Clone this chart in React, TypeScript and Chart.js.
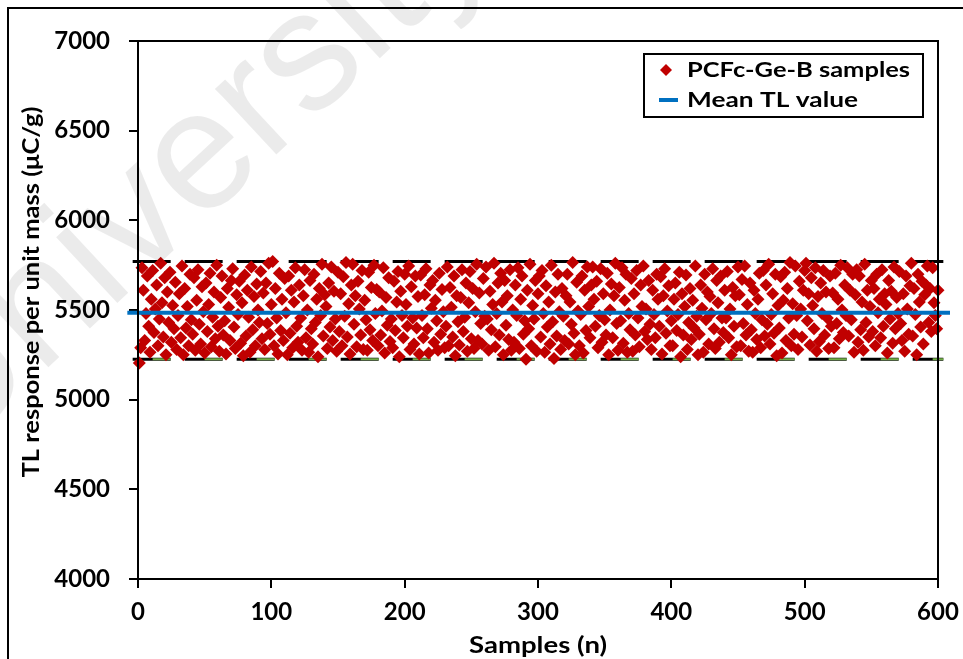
import React, { useEffect, useRef } from "react";
import { Chart, registerables } from "chart.js";

Chart.register(...registerables);

// TL response per unit mass for each PCFc-Ge-B sample
const sampleValues: number[] = [
  5205, 5290, 5735, 5610, 5330, 5480, 5690, 5410, 5265, 5560,
  5720, 5375, 5505, 5640, 5300, 5450, 5760, 5540, 5350, 5680,
  5250, 5600, 5430, 5710, 5320, 5525, 5395, 5655, 5280, 5470,
  5590, 5345, 5745, 5250, 5620, 5400, 5520, 5300, 5700, 5445,
  5365, 5680, 5275, 5555, 5725, 5420, 5310, 5630, 5490, 5260,
  5650, 5380, 5530, 5705, 5295, 5460, 5600, 5340, 5750, 5410,
  5270, 5570, 5690, 5360, 5440, 5255, 5620, 5515, 5330, 5665,
  5730, 5405, 5285, 5585, 5475, 5660, 5315, 5540, 5245, 5695,
  5355, 5610, 5460, 5265, 5740, 5390, 5575, 5300, 5645, 5500,
  5430, 5715, 5340, 5595, 5280, 5650, 5425, 5760, 5365, 5530,
  5770, 5300, 5620, 5455, 5255, 5705, 5385, 5560, 5330, 5675,
  5485, 5250, 5690, 5370, 5610, 5290, 5545, 5735, 5410, 5320,
  5640, 5455, 5275, 5580, 5725, 5345, 5500, 5265, 5665, 5395,
  5310, 5700, 5430, 5560, 5240, 5620, 5470, 5755, 5355, 5585,
  5520, 5285, 5650, 5405, 5740, 5330, 5605, 5450, 5270, 5710,
  5380, 5590, 5300, 5685, 5465, 5765, 5350, 5535, 5255, 5640,
  5755, 5420, 5580, 5295, 5660, 5505, 5360, 5720, 5280, 5555,
  5445, 5275, 5710, 5390, 5625, 5330, 5750, 5480, 5615, 5300,
  5600, 5360, 5495, 5735, 5260, 5570, 5415, 5680, 5325, 5450,
  5290, 5660, 5385, 5545, 5715, 5240, 5605, 5470, 5345, 5700,
  5530, 5410, 5745, 5280, 5630, 5455, 5310, 5690, 5400, 5575,
  5255, 5695, 5470, 5345, 5585, 5730, 5395, 5260, 5640, 5510,
  5665, 5320, 5555, 5440, 5275, 5705, 5365, 5615, 5490, 5290,
  5410, 5740, 5300, 5625, 5515, 5350, 5690, 5245, 5580, 5435,
  5305, 5570, 5725, 5380, 5460, 5650, 5270, 5540, 5715, 5340,
  5620, 5285, 5490, 5755, 5330, 5595, 5425, 5310, 5675, 5465,
  5740, 5450, 5275, 5605, 5390, 5530, 5760, 5295, 5480, 5650,
  5360, 5705, 5545, 5250, 5665, 5415, 5580, 5335, 5725, 5275,
  5500, 5320, 5640, 5470, 5735, 5285, 5560, 5690, 5365, 5440,
  5225, 5610, 5395, 5755, 5300, 5525, 5450, 5665, 5270, 5590,
  5690, 5350, 5720, 5480, 5265, 5635, 5405, 5545, 5310, 5750,
  5435, 5230, 5600, 5355, 5700, 5490, 5280, 5620, 5465, 5330,
  5580, 5700, 5310, 5545, 5420, 5765, 5370, 5250, 5655, 5495,
  5300, 5475, 5690, 5260, 5610, 5385, 5740, 5520, 5345, 5640,
  5740, 5560, 5410, 5660, 5290, 5470, 5730, 5320, 5590, 5445,
  5360, 5705, 5250, 5500, 5645, 5345, 5580, 5760, 5425, 5275,
  5625, 5440, 5735, 5315, 5555, 5700, 5265, 5480, 5390, 5675,
  5270, 5590, 5360, 5720, 5455, 5295, 5640, 5520, 5745, 5380,
  5505, 5335, 5665, 5420, 5280, 5610, 5475, 5345, 5700, 5560,
  5410, 5685, 5255, 5580, 5730, 5370, 5495, 5635, 5300, 5440,
  5300, 5560, 5650, 5385, 5475, 5710, 5240, 5590, 5360, 5520,
  5695, 5280, 5430, 5620, 5335, 5555, 5400, 5745, 5465, 5250,
  5365, 5640, 5510, 5265, 5700, 5445, 5600, 5310, 5575, 5480,
  5730, 5395, 5285, 5665, 5540, 5320, 5690, 5455, 5375, 5610,
  5455, 5715, 5345, 5505, 5250, 5625, 5410, 5580, 5295, 5740,
  5585, 5300, 5670, 5425, 5745, 5360, 5530, 5270, 5650, 5390,
  5265, 5610, 5480, 5335, 5560, 5705, 5290, 5445, 5720, 5355,
  5640, 5420, 5755, 5310, 5475, 5590, 5370, 5700, 5245, 5525,
  5400, 5685, 5260, 5555, 5710, 5330, 5620, 5455, 5765, 5300,
  5535, 5365, 5745, 5470, 5280, 5660, 5505, 5350, 5610, 5720,
  5760, 5440, 5590, 5305, 5680, 5525, 5395, 5735, 5270, 5575,
  5325, 5650, 5480, 5720, 5360, 5600, 5455, 5285, 5690, 5410,
  5595, 5290, 5705, 5425, 5560, 5340, 5750, 5500, 5375, 5640,
  5470, 5735, 5355, 5610, 5445, 5700, 5265, 5585, 5725, 5320,
  5690, 5390, 5545, 5275, 5755, 5430, 5610, 5350, 5520, 5665,
  5380, 5620, 5300, 5700, 5485, 5560, 5345, 5725, 5410, 5590,
  5530, 5260, 5665, 5450, 5605, 5315, 5740, 5395, 5570, 5480,
  5715, 5425, 5330, 5590, 5270, 5690, 5505, 5365, 5635, 5760,
  5355, 5620, 5475, 5250, 5700, 5545, 5405, 5660, 5310, 5585,
  5640, 5745, 5430, 5620, 5380, 5735, 5540, 5470, 5395, 5610,
];
const sampleNumbers: number[] = sampleValues.map((_, i) => i + 1);

const meanValue = 5485;
const upperLimit = 5770;
const lowerLimit = 5225;
const meanLineSpan = [-8, 609];
const limitLineSpan = [-4, 604];

const xTicks = [0, 100, 200, 300, 400, 500, 600];
const yTicks = [4000, 4500, 5000, 5500, 6000, 6500, 7000];

const seriesLabels = ["PCFc-Ge-B samples", "Mean TL value"];
const xTitle = "Samples (n)";
const yTitle = "TL response per unit mass (\u03bcC/g)";
const watermarkText = "University";

const FONT = "Lato, 'Open Sans', sans-serif";
const RED = "#C00000";
const BLUE = "#0070C0";
const GREEN = "#70AD47";

function fillFitted(ctx: CanvasRenderingContext2D, text: string, x: number, y: number, width: number, align: "left" | "center") {
  const w = ctx.measureText(text).width;
  const k = width / w;
  ctx.save();
  ctx.translate(x, y);
  ctx.scale(k, 1);
  ctx.textAlign = align;
  ctx.fillText(text, 0, 0);
  ctx.restore();
}

const decorPlugin = {
  id: "decor",
  beforeDraw(chart: any) {
    const ctx = chart.ctx;
    ctx.save();
    ctx.strokeStyle = "#000";
    ctx.lineWidth = 2;
    ctx.beginPath();
    ctx.moveTo(8, 700);
    ctx.lineTo(8, 8);
    ctx.lineTo(1000, 8);
    ctx.stroke();
    ctx.restore();
  },
  afterDraw(chart: any) {
    const ctx = chart.ctx as CanvasRenderingContext2D;
    const { left, top, right, bottom } = chart.chartArea;
    ctx.save();
    ctx.strokeStyle = "#000";
    ctx.lineWidth = 2;
    ctx.strokeRect(left, top, right - left, bottom - top);

    // axis titles
    ctx.fillStyle = "#000";
    ctx.textBaseline = "middle";
    ctx.font = `bold 23px ${FONT}`;
    fillFitted(ctx, xTitle, (left + right) / 2, 646, 138, "center");
    ctx.save();
    ctx.translate(32, 292);
    ctx.rotate(-Math.PI / 2);
    ctx.font = `bold 22px ${FONT}`;
    fillFitted(ctx, yTitle, 0, 0, 371, "center");
    ctx.restore();

    // legend
    ctx.lineWidth = 2;
    ctx.strokeStyle = "#000";
    ctx.strokeRect(644, 54, 279, 63);
    ctx.fillStyle = RED;
    ctx.beginPath();
    const dx = 666, dy = 70, r = 6;
    ctx.moveTo(dx - r, dy);
    ctx.lineTo(dx, dy - r);
    ctx.lineTo(dx + r, dy);
    ctx.lineTo(dx, dy + r);
    ctx.closePath();
    ctx.fill();
    ctx.strokeStyle = BLUE;
    ctx.lineWidth = 4;
    ctx.beginPath();
    ctx.moveTo(659, 100);
    ctx.lineTo(678, 100);
    ctx.stroke();
    ctx.fillStyle = "#000";
    ctx.font = `bold 21px ${FONT}`;
    ctx.textBaseline = "middle";
    fillFitted(ctx, seriesLabels[0], 687, 70, 223, "left");
    fillFitted(ctx, seriesLabels[1], 687, 100, 171, "left");

    // watermark
    ctx.translate(-50, 459);
    ctx.rotate((-43 * Math.PI) / 180);
    ctx.font = `170px 'Liberation Sans', sans-serif`;
    ctx.fillStyle = "rgba(0,0,0,0.08)";
    ctx.textBaseline = "alphabetic";
    ctx.textAlign = "left";
    ctx.fillText(watermarkText, 0, 0);
    ctx.restore();
  },
};

export default function App() {
  const ref = useRef<HTMLCanvasElement | null>(null);

  useEffect(() => {
    if (!ref.current) return;
    const chart = new Chart(ref.current, {
      type: "scatter",
      data: {
        datasets: [
          {
            label: seriesLabels[1],
            data: meanLineSpan.map((x) => ({ x, y: meanValue })),
            showLine: true,
            borderColor: BLUE,
            borderWidth: 4,
            pointRadius: 0,
            clip: false,
          } as any,
          {
            label: seriesLabels[0],
            data: sampleNumbers.map((x, i) => ({ x, y: sampleValues[i] })),
            pointStyle: "rectRot",
            pointRadius: 6.5,
            backgroundColor: RED,
            borderWidth: 0,
            clip: false,
          } as any,
          {
            label: "upper",
            data: limitLineSpan.map((x) => ({ x, y: upperLimit })),
            showLine: true,
            borderColor: "#000",
            borderWidth: 3,
            borderDash: [38, 14],
            pointRadius: 0,
            clip: false,
          } as any,
          {
            label: "lower-green",
            data: limitLineSpan.map((x) => ({ x, y: lowerLimit })),
            showLine: true,
            borderColor: GREEN,
            borderWidth: 2,
            borderDash: [18, 34],
            borderDashOffset: 32,
            pointRadius: 0,
            clip: false,
          } as any,
          {
            label: "lower",
            data: limitLineSpan.map((x) => ({ x, y: lowerLimit })),
            showLine: true,
            borderColor: "#000",
            borderWidth: 3,
            borderDash: [38, 14],
            pointRadius: 0,
            clip: false,
          } as any,
        ],
      },
      options: {
        responsive: false,
        animation: false,
        layout: { padding: { top: 41, right: 25, left: 0, bottom: 0 } },
        plugins: {
          legend: { display: false },
          tooltip: { enabled: false },
        },
        scales: {
          x: {
            type: "linear",
            min: 0,
            max: 600,
            afterBuildTicks: (s: any) => {
              s.ticks = xTicks.map((v) => ({ value: v }));
            },
            afterFit: (s: any) => {
              s.height = 80;
              s.paddingLeft = 0;
              s.paddingRight = 0;
            },
            ticks: {
              color: "#000",
              padding: 10,
              font: { family: FONT, size: 24, weight: "bold" },
              callback: (v: any) => String(v),
            },
            grid: {
              drawOnChartArea: false,
              drawTicks: true,
              tickLength: 9,
              color: "#000",
              lineWidth: 2,
            },
            border: { display: true, color: "#000", width: 2 },
            title: { display: false },
          },
          y: {
            type: "linear",
            min: 4000,
            max: 7000,
            afterBuildTicks: (s: any) => {
              s.ticks = yTicks.map((v) => ({ value: v }));
            },
            afterFit: (s: any) => {
              s.width = 138;
              s.paddingTop = 0;
              s.paddingBottom = 0;
            },
            ticks: {
              color: "#000",
              padding: 19,
              font: { family: FONT, size: 24, weight: "bold" },
              callback: (v: any) => String(v),
            },
            grid: {
              drawOnChartArea: false,
              drawTicks: true,
              tickLength: 9,
              color: "#000",
              lineWidth: 2,
            },
            border: { display: true, color: "#000", width: 2 },
            title: { display: false },
          },
        },
      } as any,
      plugins: [decorPlugin],
    });
    return () => chart.destroy();
  }, []);

  return (
    <div style={{ position: "fixed", left: 0, top: 0, width: 963, height: 659, background: "#fff" }}>
      <canvas ref={ref} width={963} height={659} style={{ display: "block" }} />
    </div>
  );
}
